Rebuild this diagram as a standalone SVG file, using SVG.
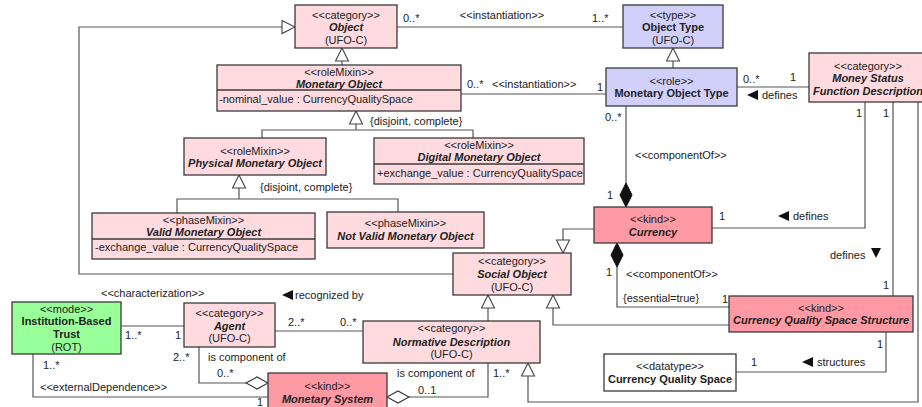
<svg xmlns="http://www.w3.org/2000/svg" width="922" height="407" viewBox="0 0 922 407">
<style>
text{font-family:"Liberation Sans",Arial,sans-serif;font-size:11px;fill:#222}
.c{text-anchor:middle}
.b{font-weight:bold}
.bi{font-weight:bold;font-style:italic}
.box{stroke:#3a3a3a;stroke-width:1.3}
.pk{fill:#ffdadf}
.kd{fill:#ff99a3}
.bl{fill:#d0d0fa}
.gr{fill:#99ff99}
.wh{fill:#ffffff}
.ln{fill:none;stroke:#555;stroke-width:1.2}
.ar{fill:#111}
</style>
<defs>
<marker id="gen" markerUnits="userSpaceOnUse" markerWidth="15" markerHeight="15" refX="13" refY="6.5" orient="auto" viewBox="-1 -1 15 15">
<path d="M0,0 L13,6.5 L0,13 z" fill="#fff" stroke="#444" stroke-width="1.1"/>
</marker>
<marker id="comp" markerUnits="userSpaceOnUse" markerWidth="26" markerHeight="14" refX="24" refY="6" orient="auto" viewBox="-1 -1 26 14">
<path d="M0,6 L12,0 L24,6 L12,12 z" fill="#111" stroke="#111" stroke-width="1"/>
</marker>
<marker id="agg" markerUnits="userSpaceOnUse" markerWidth="24" markerHeight="14" refX="22" refY="6" orient="auto" viewBox="-1 -1 24 14">
<path d="M0,6 L11,0 L22,6 L11,12 z" fill="#fff" stroke="#333" stroke-width="1.1"/>
</marker>
</defs>

<g id="connectors">
<path class="ln" d="M397,27 L623,27"/>
<path class="ln" d="M673,68 L673,48" marker-end="url(#gen)"/>
<path class="ln" d="M461,94 L606,94"/>
<path class="ln" d="M737,87 L809,87"/>
<path class="ln" d="M342,65 L342,48" marker-end="url(#gen)"/>
<path class="ln" d="M262,138 L262,130 L473,130 L473,138"/>
<path class="ln" d="M356,130 L356,111" marker-end="url(#gen)"/>
<path class="ln" d="M177,213 L177,199 L398,199 L398,212"/>
<path class="ln" d="M239,199 L239,175" marker-end="url(#gen)"/>
<path class="ln" d="M453,274 L79,274 L79,27 L295,27" marker-end="url(#gen)"/>
<path class="ln" d="M626,106 L626,207" marker-end="url(#comp)"/>
<path class="ln" d="M594,229 L563,229 L563,253" marker-end="url(#gen)"/>
<path class="ln" d="M865,102 L865,228 L712,228"/>
<path class="ln" d="M893,102 L893,296"/>
<path class="ln" d="M918,102 L918,402 L528,402 L528,363" marker-end="url(#gen)"/>
<path class="ln" d="M729,307 L617,307 L617,243" marker-end="url(#comp)"/>
<path class="ln" d="M729,325 L553,325 L553,295" marker-end="url(#gen)"/>
<path class="ln" d="M488,321 L488,295" marker-end="url(#gen)"/>
<path class="ln" d="M886,332 L886,372 L736,372"/>
<path class="ln" d="M121,326 L184,326"/>
<path class="ln" d="M275,331 L363,331"/>
<path class="ln" d="M199,347 L199,383 L268,383" marker-end="url(#agg)"/>
<path class="ln" d="M33,354 L33,397 L268,397"/>
<path class="ln" d="M488,363 L488,397 L387,397" marker-end="url(#agg)"/>

<text x="403" y="22">0..*</text>
<text class="c" x="502" y="19">&lt;&lt;instantiation&gt;&gt;</text>
<text x="592" y="22">1..*</text>
<text x="467" y="88">0..*</text>
<text x="492" y="88">&lt;&lt;instantiation&gt;&gt;</text>
<text x="597" y="91">1</text>
<text x="743" y="83">0..*</text>
<text x="790" y="81">1</text>
<polygon class="ar" points="747,95 758,90 758,100"/>
<text x="762" y="99">defines</text>
<text x="370" y="125">{disjoint, complete}</text>
<text x="260" y="191">{disjoint, complete}</text>
<text x="605" y="121">0..*</text>
<text x="635" y="159">&lt;&lt;componentOf&gt;&gt;</text>
<text x="607" y="199">1</text>
<text x="719" y="220">1</text>
<polygon class="ar" points="778,216 789,211 789,221"/>
<text x="793" y="220">defines</text>
<text x="856" y="117">1</text>
<text x="883" y="117">1</text>
<text x="830" y="259">defines</text>
<polygon class="ar" points="871,248 881,248 876,258"/>
<text x="883" y="289">1</text>
<text x="606" y="276">1</text>
<text x="626" y="278">&lt;&lt;componentOf&gt;&gt;</text>
<text x="623" y="302">{essential=true}</text>
<text x="722" y="303">1</text>
<text x="877" y="348">1</text>
<text x="751" y="366">1</text>
<polygon class="ar" points="802,362 813,357 813,367"/>
<text x="817" y="366">structures</text>
<text x="101" y="297">&lt;&lt;characterization&gt;&gt;</text>
<text x="125" y="339">1..*</text>
<text x="175" y="339">1</text>
<text x="288" y="326">2..*</text>
<text x="340" y="326">0..*</text>
<polygon class="ar" points="282,295 293,290 293,300"/>
<text x="295" y="299">recognized by</text>
<text x="173" y="361">2..*</text>
<text x="208" y="361">is component of</text>
<text x="217" y="377">0..*</text>
<text x="43" y="369">1..*</text>
<text x="40" y="391">&lt;&lt;externalDependence&gt;&gt;</text>
<text x="257" y="406">1</text>
<text x="397" y="377">is component of</text>
<text x="418" y="394">0..1</text>
<text x="493" y="377">1..*</text>
</g>

<g id="object">
<rect class="box pk" x="295" y="5" width="102" height="43"/>
<text class="c" x="346" y="19">&lt;&lt;category&gt;&gt;</text>
<text class="c bi" x="346" y="31">Object</text>
<text class="c" x="346" y="44">(UFO-C)</text>
</g>
<g id="object-type">
<rect class="box bl" x="623" y="5" width="100" height="43"/>
<text class="c" x="673" y="19">&lt;&lt;type&gt;&gt;</text>
<text class="c b" x="673" y="31">Object Type</text>
<text class="c" x="673" y="44">(UFO-C)</text>
</g>
<g id="monetary-object">
<rect class="box pk" x="217" y="65" width="244" height="46"/>
<line class="box" x1="217" y1="90" x2="461" y2="90"/>
<text class="c" x="339" y="76">&lt;&lt;roleMixin&gt;&gt;</text>
<text class="c bi" x="339" y="88">Monetary Object</text>
<text x="219" y="103">-nominal_value : CurrencyQualitySpace</text>
</g>
<g id="monetary-object-type">
<rect class="box bl" x="606" y="68" width="131" height="38"/>
<text class="c" x="671.5" y="85">&lt;&lt;role&gt;&gt;</text>
<text class="c b" x="671.5" y="97">Monetary Object Type</text>
</g>
<g id="money-status-function-description">
<rect class="box pk" x="809" y="53" width="118" height="49"/>
<text class="c" x="868" y="70">&lt;&lt;category&gt;&gt;</text>
<text class="c bi" x="868" y="82">Money Status</text>
<text class="c bi" x="868" y="95">Function Description</text>
</g>
<g id="physical-monetary-object">
<rect class="box pk" x="184" y="138" width="142" height="37"/>
<text class="c" x="255" y="155">&lt;&lt;roleMixin&gt;&gt;</text>
<text class="c bi" x="255" y="167">Physical Monetary Object</text>
</g>
<g id="digital-monetary-object">
<rect class="box pk" x="374" y="138" width="210" height="46"/>
<line class="box" x1="374" y1="164" x2="584" y2="164"/>
<text class="c" x="479" y="149">&lt;&lt;roleMixin&gt;&gt;</text>
<text class="c bi" x="479" y="161">Digital Monetary Object</text>
<text x="377" y="177">+exchange_value : CurrencyQualitySpace</text>
</g>
<g id="valid-monetary-object">
<rect class="box pk" x="92" y="213" width="223" height="46"/>
<line class="box" x1="92" y1="239" x2="315" y2="239"/>
<text class="c" x="203.5" y="224">&lt;&lt;phaseMixin&gt;&gt;</text>
<text class="c bi" x="203.5" y="236">Valid Monetary Object</text>
<text x="95" y="251">-exchange_value : CurrencyQualitySpace</text>
</g>
<g id="not-valid-monetary-object">
<rect class="box pk" x="327" y="212" width="157" height="36"/>
<text class="c" x="405.5" y="227">&lt;&lt;phaseMixin&gt;&gt;</text>
<text class="c bi" x="405.5" y="240">Not Valid Monetary Object</text>
</g>
<g id="currency">
<rect class="box kd" x="594" y="207" width="118" height="36"/>
<text class="c" x="653" y="223">&lt;&lt;kind&gt;&gt;</text>
<text class="c bi" x="653" y="236">Currency</text>
</g>
<g id="social-object">
<rect class="box pk" x="453" y="253" width="118" height="42"/>
<text class="c" x="512" y="265">&lt;&lt;category&gt;&gt;</text>
<text class="c bi" x="512" y="278">Social Object</text>
<text class="c" x="512" y="291">(UFO-C)</text>
</g>
<g id="currency-quality-space-structure">
<rect class="box kd" x="729" y="296" width="184" height="36"/>
<text class="c" x="821" y="312">&lt;&lt;kind&gt;&gt;</text>
<text class="c bi" x="821" y="324">Currency Quality Space Structure</text>
</g>
<g id="normative-description">
<rect class="box pk" x="363" y="321" width="177" height="42"/>
<text class="c" x="451.5" y="332">&lt;&lt;category&gt;&gt;</text>
<text class="c bi" x="451.5" y="346">Normative Description</text>
<text class="c" x="451.5" y="358">(UFO-C)</text>
</g>
<g id="currency-quality-space">
<rect class="box wh" x="604" y="354" width="132" height="37"/>
<text class="c" x="670" y="370">&lt;&lt;datatype&gt;&gt;</text>
<text class="c b" x="670" y="383">Currency Quality Space</text>
</g>
<g id="institution-based-trust">
<rect class="box gr" x="12" y="302" width="109" height="52"/>
<text class="c" x="66.5" y="313">&lt;&lt;mode&gt;&gt;</text>
<text class="c b" x="66.5" y="325">Institution-Based</text>
<text class="c b" x="66.5" y="338">Trust</text>
<text class="c" x="66.5" y="351">(ROT)</text>
</g>
<g id="agent">
<rect class="box pk" x="184" y="303" width="91" height="44"/>
<text class="c" x="229.5" y="317">&lt;&lt;category&gt;&gt;</text>
<text class="c bi" x="229.5" y="330">Agent</text>
<text class="c" x="229.5" y="342">(UFO-C)</text>
</g>
<g id="monetary-system">
<rect class="box kd" x="268" y="373" width="119" height="44"/>
<text class="c" x="327.5" y="390">&lt;&lt;kind&gt;&gt;</text>
<text class="c bi" x="327.5" y="403">Monetary System</text>
</g>
</svg>
